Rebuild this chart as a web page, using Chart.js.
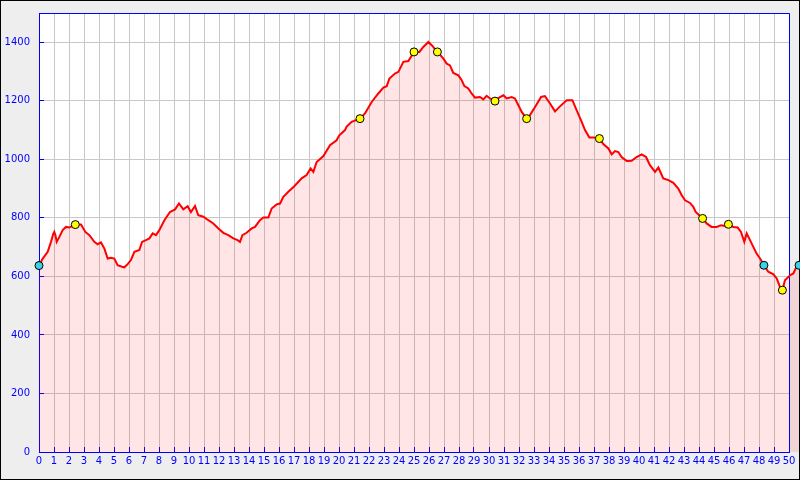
<!DOCTYPE html>
<html><head><meta charset="utf-8">
<script src="https://cdn.jsdelivr.net/npm/chart.js@4"></script>
<style>html,body{margin:0;padding:0;background:#eeeeee}canvas{display:block}</style>
</head><body>
<canvas id="c" width="800" height="480"></canvas>
<script>
// distance (km) / elevation (m) profile
const KM=[0,0.25,0.58,0.8,0.95,1.02,1.1,1.18,1.36,1.58,1.8,2.02,2.2,2.42,2.8,3.09,3.36,3.69,3.91,4.13,4.36,4.58,4.8,5.02,5.24,5.53,5.69,5.91,6.13,6.36,6.69,6.87,7.13,7.36,7.58,7.8,8.02,8.36,8.73,9.07,9.33,9.62,9.91,10.13,10.4,10.62,10.96,11.29,11.62,11.96,12.29,12.62,12.96,13.24,13.4,13.56,13.84,14.18,14.4,14.73,14.96,15.29,15.51,15.84,16.07,16.29,16.62,17.02,17.51,17.84,18.11,18.29,18.51,18.96,19.4,19.84,20.02,20.4,20.5,20.84,21.4,21.73,22.18,22.62,22.96,23.18,23.36,23.73,23.96,24.29,24.62,25.0,25.36,25.62,25.96,26.18,26.56,26.96,27.18,27.4,27.62,27.96,28.18,28.36,28.62,28.84,29.07,29.4,29.62,29.84,30.07,30.4,30.73,30.96,31.18,31.51,31.73,31.96,32.18,32.51,32.73,33.07,33.47,33.73,34.07,34.4,34.73,35.18,35.56,35.84,36.18,36.4,36.69,36.96,37.36,37.62,37.96,38.18,38.4,38.62,38.84,39.18,39.51,39.84,40.18,40.47,40.73,41.07,41.29,41.62,41.96,42.29,42.62,42.84,43.07,43.4,43.62,43.78,44.24,44.51,44.84,45.18,45.47,45.73,45.96,46.29,46.58,46.8,47.02,47.18,47.4,47.62,47.84,48.07,48.33,48.62,48.96,49.18,49.4,49.56,49.73,50.07,50.29,50.44,50.67];
const ELEV=[637,661,684,718,745,752,740,718,735,758,769,767,772,777,777,752,741,718,710,716,695,661,664,661,638,633,631,642,656,684,690,718,724,730,747,741,758,792,820,829,849,829,840,820,841,809,804,792,781,764,749,741,730,724,718,741,749,764,769,792,801,801,832,846,849,872,889,908,935,946,969,957,991,1011,1048,1065,1082,1100,1111,1128,1139,1157,1196,1225,1245,1250,1276,1293,1299,1333,1336,1367,1367,1384,1401,1390,1367,1344,1327,1321,1295,1287,1270,1250,1242,1225,1211,1213,1205,1217,1208,1199,1213,1219,1208,1213,1208,1185,1162,1139,1151,1179,1213,1216,1191,1164,1181,1202,1202,1168,1128,1100,1075,1075,1071,1052,1037,1017,1028,1025,1008,994,995,1008,1017,1008,980,957,972,935,929,920,900,878,860,851,838,820,798,781,769,769,775,772,778,769,767,752,718,747,724,701,678,661,638,616,607,593,564,553,587,604,610,627,638];
// waypoints
const YEL_KM=[2.42,21.4,25.0,26.56,30.4,32.51,37.36,44.24,45.96,49.56];
const YEL_EL=[777,1139,1367,1367,1199,1139,1071,798,778,553];
const CYAN_KM=[0,48.33,50.67];
const CYAN_EL=[637,638,638];
const X_TICKS=Array.from({length:51},(_,i)=>i);
const Y_TICKS=[0,200,400,600,800,1000,1200,1400];

const BLUE='#0000ff',GRID='#c8c8c8',FILL='rgba(255,0,0,0.1)';
const pts=(xs,ys)=>xs.map((x,i)=>({x,y:ys[i]}));

const frame={id:'frame',
  beforeDraw(ch){const c=ch.ctx,a=ch.chartArea;c.save();
    c.fillStyle='#eeeeee';c.fillRect(0,0,ch.width,ch.height);
    c.strokeStyle='#000';c.lineWidth=1;c.strokeRect(.5,.5,ch.width-1,ch.height-1);
    c.fillStyle='#fff';c.fillRect(a.left,a.top,a.right-a.left,a.bottom-a.top);c.restore();},
  beforeDatasetsDraw(ch){const c=ch.ctx,a=ch.chartArea,d=ch.getDatasetMeta(2).data,y0=ch.scales.y.getPixelForValue(0);
    c.save();
    // area under the profile, also past the 50 km edge
    c.beginPath();c.moveTo(d[0].x,y0);d.forEach(p=>c.lineTo(p.x,p.y));c.lineTo(d[d.length-1].x,y0);c.closePath();
    c.fillStyle=FILL;c.fill();
    c.strokeStyle=BLUE;c.lineWidth=1;c.beginPath();
    c.moveTo(a.left,Math.round(a.top)+.5);c.lineTo(Math.round(a.right)+.5,Math.round(a.top)+.5);c.lineTo(Math.round(a.right)+.5,a.bottom);c.stroke();
    c.restore();},
  afterDatasetsDraw(ch){const c=ch.ctx,a=ch.chartArea;
    // chart.js skips points outside the area; draw the overrun ones
    [0,1].forEach(i=>ch.getDatasetMeta(i).data.forEach(p=>{if(p.x<=a.right+4)return;const o=p.options;
      c.save();c.fillStyle=o.backgroundColor;c.strokeStyle=o.borderColor;c.lineWidth=o.borderWidth;
      c.beginPath();c.arc(p.x,p.y,o.radius,0,Math.PI*2);c.fill();c.stroke();c.restore();}));}
};

const tickFont={family:'DejaVu Sans',size:10};
const noPad=s=>{s.paddingTop=0;s.paddingBottom=0;s.paddingLeft=0;s.paddingRight=0;};
new Chart(document.getElementById('c'),{type:'line',
  data:{datasets:[
    {data:pts(YEL_KM,YEL_EL),showLine:false,pointRadius:4,pointBackgroundColor:'#ffff00',pointBorderColor:'#000',pointBorderWidth:1,clip:false},
    {data:pts(CYAN_KM,CYAN_EL),showLine:false,pointRadius:4,pointBackgroundColor:'#3cd2e6',pointBorderColor:'#000',pointBorderWidth:1,clip:false},
    {data:pts(KM,ELEV),borderColor:'#ff0000',borderWidth:2,pointRadius:0,fill:false,tension:0,clip:false}
  ]},
  options:{responsive:false,animation:false,events:[],
    layout:{padding:{top:13,right:11,left:0,bottom:0}},
    plugins:{legend:{display:false},tooltip:{enabled:false}},
    scales:{
      // limits set after data so the profile can run past 50 km
      x:{type:'linear',afterDataLimits:s=>{s.min=0;s.max=50},afterBuildTicks:s=>{s.ticks=X_TICKS.map(v=>({value:v}))},afterFit:s=>{s.height=28;noPad(s)},
        grid:{color:GRID,tickColor:BLUE,tickLength:-5},border:{color:BLUE,width:1},
        ticks:{color:BLUE,font:tickFont,padding:8,autoSkip:false,maxRotation:0,callback:v=>String(v)}},
      y:{type:'linear',min:0,max:1500,afterBuildTicks:s=>{s.ticks=Y_TICKS.map(v=>({value:v}))},afterFit:s=>{s.width=39;noPad(s)},
        grid:{color:GRID,tickColor:BLUE,tickLength:-5},border:{color:BLUE,width:1},
        ticks:{color:BLUE,font:tickFont,padding:14,callback:v=>String(v)}}
    }},
  plugins:[frame]});
</script>
</body></html>
